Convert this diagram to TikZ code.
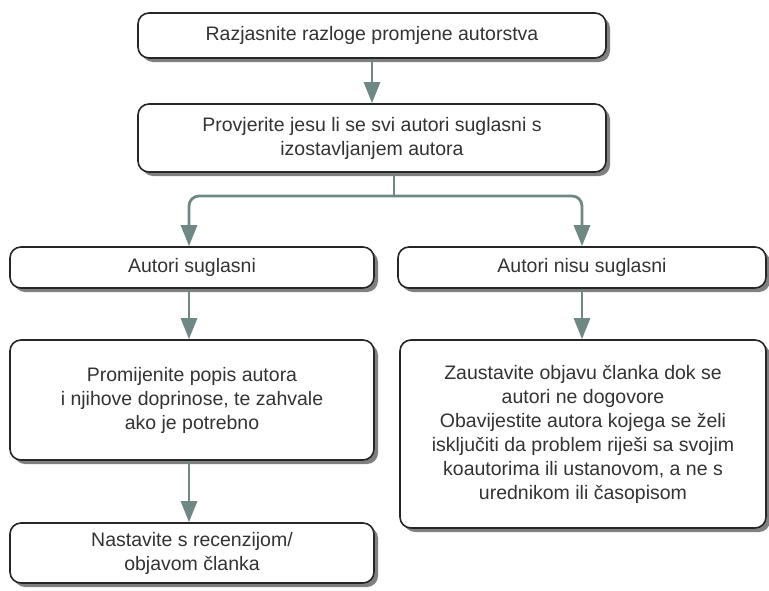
\documentclass[tikz,border=0pt]{standalone}
\usepackage{fontspec}
\setmainfont{Liberation Sans}
\usetikzlibrary{arrows.meta,shadows}
\definecolor{pfeil}{HTML}{6F8884}
\definecolor{schrift}{HTML}{333333}
\begin{document}
\begin{tikzpicture}[x=1pt,y=-1pt,
  kasten/.style={draw=black!85,line width=1.6pt,fill=white,rounded corners=11pt,
    text=schrift,align=center,inner sep=0pt,
    font=\fontsize{19.5}{24}\selectfont,
    drop shadow={shadow xshift=4pt,shadow yshift=-4pt,fill=black!50,opacity=1}},
  pfeil/.style={draw=pfeil,line width=2.8pt,-{Triangle[length=21pt,width=16pt]}}]
\useasboundingbox (0,0) rectangle (769,590);
\node[kasten,minimum width=468pt,minimum height=45pt] (razlog) at (372,35.5) {Razjasnite razloge promjene autorstva};
\node[kasten,minimum width=468pt,minimum height=68pt] (provjera) at (372,138) {Provjerite jesu li se svi autori suglasni s\\izostavljanjem autora};
\node[kasten,minimum width=364pt,minimum height=41pt] (da) at (192,267.5) {Autori suglasni};
\node[kasten,minimum width=368pt,minimum height=41pt] (ne) at (582,267.5) {Autori nisu suglasni};
\node[kasten,minimum width=364pt,minimum height=120pt] (popis) at (192,400) {Promijenite popis autora\\i njihove doprinose, te zahvale\\ako je potrebno};
\node[kasten,minimum width=366pt,minimum height=188pt] (stop) at (583,434) {Zaustavite objavu članka dok se\\autori ne dogovore\\Obavijestite autora kojega se želi\\isključiti da problem riješi sa svojim\\koautorima ili ustanovom, a ne s\\urednikom ili časopisom};
\node[kasten,minimum width=364pt,minimum height=60pt] (dalje) at (192,553) {Nastavite s recenzijom/\\objavom članka};
\coordinate (grana) at (394,196);
\draw[pfeil] (razlog) -- (provjera);
\draw[draw=pfeil,line width=2.8pt] (provjera.south -| grana) -- (grana);
\draw[pfeil,rounded corners=10pt] (grana) -| ([xshift=-3pt]da.north);
\draw[pfeil,rounded corners=10pt] (grana) -| (ne.north);
\draw[pfeil] ([xshift=-3pt]da.south) -- ([xshift=-3pt]popis.north);
\draw[pfeil] (ne) -- (ne |- stop.north);
\draw[pfeil] ([xshift=-3pt]popis.south) -- ([xshift=-3pt]dalje.north);
\end{tikzpicture}
\end{document}
